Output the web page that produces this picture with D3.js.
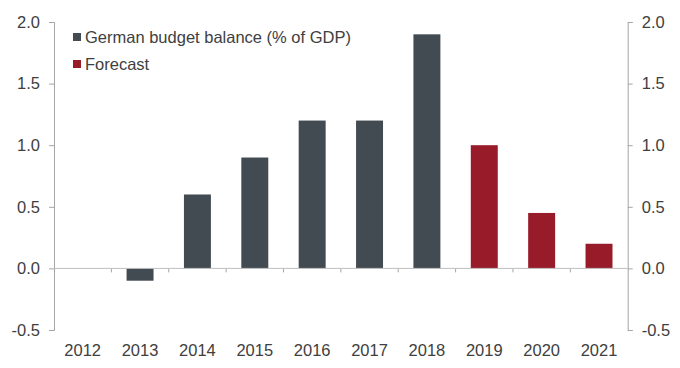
<!DOCTYPE html>
<html><head><meta charset="utf-8">
<script src="https://cdn.jsdelivr.net/npm/d3@7"></script>
<style>body{margin:0;background:#fff}svg{display:block;font-family:"Liberation Sans",Arial,sans-serif}</style>
</head><body><svg id="c" width="680" height="368"></svg>
<script>
const years = ["2012","2013","2014","2015","2016","2017","2018","2019","2020","2021"];
const balance = [0, -0.1, 0.6, 0.9, 1.2, 1.2, 1.9, 1.0, 0.45, 0.2];
const isForecast = [false,false,false,false,false,false,false,true,true,true];
const yTicks = [-0.5, 0, 0.5, 1.0, 1.5, 2.0];
const legendLabels = ["German budget balance (% of GDP)", "Forecast"];
const colors = {actual:"#434b52", forecast:"#981b2a"};

(function(){
const svg = d3.select("#c");
const mL = 54, mR = 627.7, mT = 22, mB = 330;
const fs = "16.5px";
const x = d3.scaleBand().domain(years).range([mL, mR]).paddingInner(0.53).paddingOuter(0.265);
const xb = d3.scaleBand().domain(years).range([mL, mR]);
const y = d3.scaleLinear().domain([-0.5, 2.0]).range([mB, mT]);
const textCol = "#404040", axisCol = "#a6a6a6";

svg.append("g").selectAll("rect").data(years).join("rect")
  .attr("x", d => x(d))
  .attr("width", x.bandwidth())
  .attr("y", (d,i) => y(Math.max(0, balance[i])))
  .attr("height", (d,i) => Math.abs(y(balance[i]) - y(0)))
  .attr("fill", (d,i) => isForecast[i] ? colors.forecast : colors.actual);

const fmt = v => v.toFixed(1);
const ga = svg.append("g").attr("transform", `translate(${mL},0)`)
  .call(d3.axisLeft(y).tickValues(yTicks).tickFormat(fmt).tickSize(5).tickPadding(9));
const gb = svg.append("g").attr("transform", `translate(${mR},0)`)
  .call(d3.axisRight(y).tickValues(yTicks).tickFormat(fmt).tickSize(5).tickPadding(9));
[ga, gb].forEach(g => {
  g.select(".domain").attr("stroke", axisCol);
  g.selectAll(".tick line").attr("stroke", axisCol);
  g.selectAll("text").attr("fill", textCol).style("font-size", fs).style("font-family", '"Liberation Sans",Arial,sans-serif');
});

const gx = svg.append("g").attr("transform", `translate(0,${y(0)})`)
  .call(d3.axisBottom(xb).tickValues(years.slice(1)).tickSize(4).tickFormat(() => "").offset(0));
gx.select(".domain").remove();
gx.selectAll(".tick line").attr("stroke", axisCol).attr("transform", `translate(${-xb.bandwidth()/2},0)`);
svg.append("line").attr("x1", mL).attr("x2", mR).attr("y1", y(0)).attr("y2", y(0)).attr("stroke", "#bfbfbf");

svg.append("g").selectAll("text").data(years).join("text")
  .attr("x", d => xb(d) + xb.bandwidth()/2)
  .attr("y", 356)
  .attr("text-anchor", "middle")
  .attr("fill", textCol)
  .style("font-size", fs)
  .text(d => d);

const lg = svg.append("g");
legendLabels.forEach((t, i) => {
  lg.append("rect").attr("x", 73).attr("y", 33 + i*27).attr("width", 8).attr("height", 8)
    .attr("fill", i === 0 ? colors.actual : colors.forecast);
  lg.append("text").attr("x", 85).attr("y", 43 + i*26.5).attr("fill", textCol)
    .style("font-size", fs).text(t);
});
})();
</script></body></html>
